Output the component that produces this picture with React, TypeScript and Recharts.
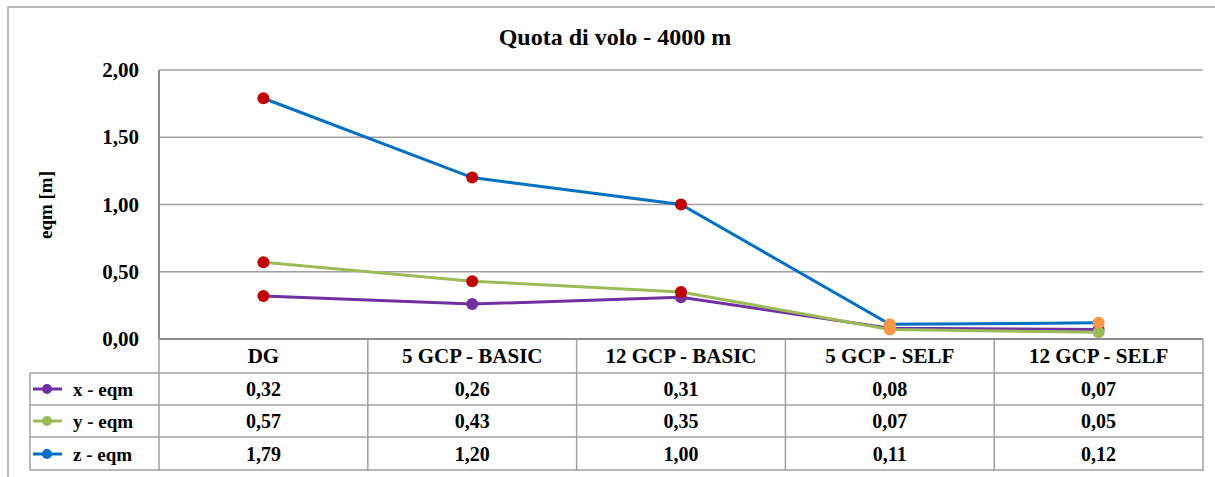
import React from 'react';
import { LineChart, Line, XAxis, YAxis, CartesianGrid } from 'recharts';

const categories = ['DG', '5 GCP - BASIC', '12 GCP - BASIC', '5 GCP - SELF', '12 GCP - SELF'];
const xEqm = [0.32, 0.26, 0.31, 0.08, 0.07];
const yEqm = [0.57, 0.43, 0.35, 0.07, 0.05];
const zEqm = [1.79, 1.2, 1.0, 0.11, 0.12];
const yTicks = [0, 0.5, 1, 1.5, 2];

const RED = '#C00000';
const ORANGE = '#F79646';
const PURPLE = '#7030A0';
const GREEN = '#9BBB59';
const BLUE = '#0070C0';

// highlighted markers per point, as in the reference
const xMarkers = [RED, PURPLE, PURPLE, ORANGE, PURPLE];
const yMarkers = [RED, RED, RED, ORANGE, GREEN];
const zMarkers = [RED, RED, RED, ORANGE, ORANGE];

const series = [
  { key: 'x', label: 'x - eqm', color: PURPLE, values: xEqm, markers: xMarkers },
  { key: 'y', label: 'y - eqm', color: GREEN, values: yEqm, markers: yMarkers },
  { key: 'z', label: 'z - eqm', color: BLUE, values: zEqm, markers: zMarkers },
];

const data = categories.map((name, i) => ({ name, x: xEqm[i], y: yEqm[i], z: zEqm[i] }));

const FONT = '"Liberation Serif", "DejaVu Serif", serif';
const txt = { fontFamily: FONT, fontWeight: 'bold' as const };
const GRID = '#a0a0a0';
const HALF = 104.4; // half column width of the data table
const PLOT_BOTTOM = 339;
const TABLE_BOTTOM = 471;
const rowBase = [396, 428, 461];

const fmt = (v: number) => v.toFixed(2).replace('.', ',');

const TableTick = (props: any) => {
  const { x, payload } = props;
  const i = categories.indexOf(payload.value);
  return (
    <g>
      <line x1={x - HALF} x2={x - HALF} y1={PLOT_BOTTOM} y2={TABLE_BOTTOM} stroke={GRID} strokeWidth={1.5} />
      {i === categories.length - 1 && (
        <line x1={x + HALF} x2={x + HALF} y1={PLOT_BOTTOM} y2={TABLE_BOTTOM} stroke={GRID} strokeWidth={1.5} />
      )}
      <text x={x} y={363} textAnchor="middle" style={{ ...txt, fontSize: 21 }} fill="#000">
        {payload.value}
      </text>
      {series.map((s, r) => (
        <text key={s.key} x={x} y={rowBase[r]} textAnchor="middle" style={{ ...txt, fontSize: 20 }} fill="#000">
          {fmt(s.values[i])}
        </text>
      ))}
    </g>
  );
};

const YTick = (props: any) => {
  const { x, y, payload } = props;
  return (
    <text x={x} y={y + 7} textAnchor="end" style={{ ...txt, fontSize: 21 }} fill="#000">
      {fmt(payload.value)}
    </text>
  );
};

const makeDot = (markers: string[]) => (p: any) => (
  <circle key={`d-${p.dataKey}-${p.index}`} cx={p.cx} cy={p.cy} r={6} fill={markers[p.index]} stroke="none" />
);

export default function App() {
  return (
    <div style={{ position: 'absolute', left: 0, top: 0, width: 1215, height: 477, background: '#fff', fontFamily: FONT }}>
      <LineChart width={1215} height={477} data={data} margin={{ top: 70, right: 12, bottom: 7, left: 99 }}>
        <CartesianGrid vertical={false} stroke={GRID} strokeWidth={1.5} />
        <XAxis
          dataKey="name"
          interval={0}
          height={131}
          padding={{ left: HALF, right: HALF }}
          axisLine={{ stroke: '#8c8c8c', strokeWidth: 2 }}
          tickLine={false}
          tick={<TableTick />}
        />
        <YAxis
          width={60}
          domain={[0, 2]}
          ticks={yTicks}
          axisLine={{ stroke: '#8c8c8c', strokeWidth: 2 }}
          tickLine={false}
          tickMargin={14}
          tick={<YTick />}
        />
        {series.map((s) => (
          <Line
            key={s.key}
            dataKey={s.key}
            stroke={s.color}
            strokeWidth={3}
            type="linear"
            dot={makeDot(s.markers)}
            activeDot={false}
            isAnimationActive={false}
          />
        ))}
      </LineChart>
      <svg width={1215} height={477} style={{ position: 'absolute', left: 0, top: 0, pointerEvents: 'none' }}>
        <rect x={8} y={7} width={1220} height={490} fill="none" stroke={GRID} strokeWidth={1.5} />
        <text x={615} y={45} textAnchor="middle" style={{ ...txt, fontSize: 24 }} fill="#000">
          Quota di volo - 4000 m
        </text>
        <text x={0} y={0} transform="translate(52,205) rotate(-90)" textAnchor="middle" style={{ ...txt, fontSize: 19 }} fill="#000">
          eqm [m]
        </text>
        {[373, 405, 437, 470].map((y) => (
          <line key={y} x1={30} x2={1203} y1={y} y2={y} stroke={GRID} strokeWidth={1.5} />
        ))}
        <line x1={30} x2={30} y1={373} y2={470} stroke={GRID} strokeWidth={1.5} />
        {series.map((s, r) => {
          const cy = rowBase[r] - 7;
          return (
            <g key={s.key}>
              <line x1={33} x2={62} y1={cy} y2={cy} stroke={s.color} strokeWidth={3} />
              <circle cx={47} cy={cy} r={5} fill={s.color} />
              <text x={73} y={rowBase[r]} style={{ ...txt, fontSize: 19 }} fill="#000">
                {s.label}
              </text>
            </g>
          );
        })}
      </svg>
    </div>
  );
}
